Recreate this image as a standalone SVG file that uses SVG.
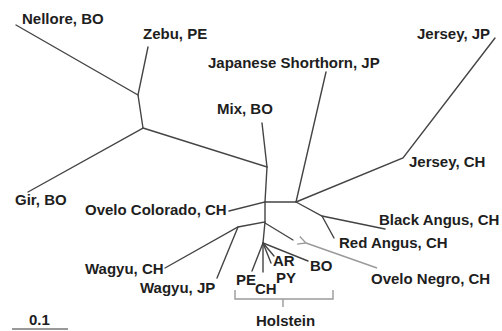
<svg xmlns="http://www.w3.org/2000/svg" width="502" height="331" viewBox="0 0 502 331">
<style>
.e{stroke:#444;stroke-width:1.4;fill:none;stroke-linecap:round}
.g{stroke:#9a9a9a;stroke-width:1.4;fill:none}
text{font-family:"Liberation Sans",Arial,sans-serif;font-weight:bold;font-size:15px;fill:#1e1e1e}
</style>
<defs>
<marker id="ah" markerWidth="10" markerHeight="10" refX="1" refY="5" orient="auto" markerUnits="userSpaceOnUse">
<path d="M9,1 L1,5 L9,9" fill="none" stroke="#9a9a9a" stroke-width="1.3"/>
</marker>
</defs>
<rect width="502" height="331" fill="#fff"/>
<g id="connectors">
<path class="e" d="M16,25 L138,95 L148,47"/>
<path class="e" d="M138,95 L143,128 L28,192"/>
<path class="e" d="M143,128 L267,167 L262,123"/>
<path class="e" d="M267,167 L265,202 L229,211"/>
<path class="e" d="M265,202 L296,202 L326,72"/>
<path class="e" d="M296,202 L403,158 L495,38"/>
<path class="e" d="M296,202 L322,216 L385,229"/>
<path class="e" d="M322,216 L334,238"/>
<path class="e" d="M265,202 L265,222 L238,227 L165,268"/>
<path class="e" d="M238,227 L217,278"/>
<path class="e" d="M265,223 L293,240"/>
<path class="e" d="M265,222 L263,243 L308,261"/>
<path class="e" d="M263,243 L252,271"/>
<path class="e" d="M263,243 L263,272"/>
<path class="e" d="M263,243 L271,263"/>
<path class="e" d="M263,243 L274,256"/>
<path class="g" d="M377,268 L306,243" marker-end="url(#ah)"/>
<path class="g" d="M235,290 L235,299 L333,299 L333,290 M283,299 L283,307"/>
<path d="M12,329 L68,329" stroke="#999" stroke-width="2"/>
</g>
<g id="nellore"><text x="22" y="24">Nellore, BO</text></g>
<g id="zebu"><text x="143" y="39">Zebu, PE</text></g>
<g id="japanese-shorthorn"><text x="208" y="68">Japanese Shorthorn, JP</text></g>
<g id="jersey-jp"><text x="417" y="39">Jersey, JP</text></g>
<g id="mix"><text x="217" y="114">Mix, BO</text></g>
<g id="jersey-ch"><text x="409" y="167">Jersey, CH</text></g>
<g id="gir"><text x="15" y="205">Gir, BO</text></g>
<g id="ovelo-colorado"><text x="85" y="215">Ovelo Colorado, CH</text></g>
<g id="black-angus"><text x="379" y="225">Black Angus, CH</text></g>
<g id="red-angus"><text x="339" y="248">Red Angus, CH</text></g>
<g id="wagyu-ch"><text x="85" y="274">Wagyu, CH</text></g>
<g id="wagyu-jp"><text x="140" y="293">Wagyu, JP</text></g>
<g id="ovelo-negro"><text x="371" y="284">Ovelo Negro, CH</text></g>
<g id="holstein-ar"><text x="273" y="266">AR</text></g>
<g id="holstein-bo"><text x="310" y="271">BO</text></g>
<g id="holstein-py"><text x="276" y="283">PY</text></g>
<g id="holstein-pe"><text x="236" y="285">PE</text></g>
<g id="holstein-ch"><text x="255" y="294">CH</text></g>
<g id="holstein"><text x="256" y="326">Holstein</text></g>
<g id="scale"><text x="29" y="325">0.1</text></g>
</svg>
